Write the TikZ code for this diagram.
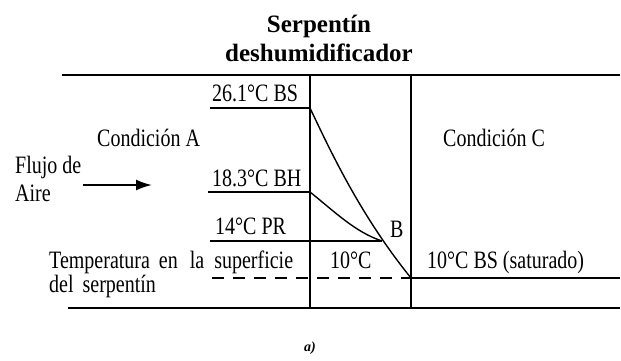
\documentclass[tikz,border=0pt]{standalone}
\usepackage{fontspec}
\setmainfont{Liberation Serif}
\newfontfamily\condfont{Liberation Serif}[FakeStretch=0.8]
\usetikzlibrary{arrows.meta,positioning}

\begin{document}
\begin{tikzpicture}[x=1pt, y=-1pt, node distance={6pt},
    lbl/.style = {inner sep=0pt, anchor=base west, font=\condfont\fontsize{25}{30}\selectfont},
    ttl/.style = {inner sep=0pt, anchor=base, font=\bfseries\fontsize{25}{30}\selectfont},
    wall/.style = {line width=2pt},
    proc/.style = {line width=1.4pt}]
        \useasboundingbox (0,0) rectangle (621,360);
        \node[ttl] (t1) at (319,32) {Serpentín};
        \node[ttl] (t2) at (319,61) {deshumidificador};
        \coordinate (tl) at (62,75);
        \coordinate (tr) at (620,75);
        \coordinate (bl) at (68,308);
        \coordinate (br) at (620,308);
        \coordinate (c1t) at (310,75);
        \coordinate (c1b) at (310,308);
        \coordinate (c2t) at (411,75);
        \coordinate (c2b) at (411,308);
        \coordinate (bs0) at (210,108);
        \coordinate (bs) at (310,108);
        \coordinate (bh0) at (208,192);
        \coordinate (bh) at (310,192);
        \coordinate (pr0) at (210,241);
        \coordinate (B) at (382,241);
        \coordinate (d0) at (212,278);
        \coordinate (sat) at (411,278);
        \coordinate (sat1) at (620,278);
        \coordinate (f0) at (83,185);
        \coordinate (f1) at (152,185);
        \node[lbl] (bsl) at (212,101) {26.1°C BS};
        \node[lbl] (bhl) at (212,186) {18.3°C BH};
        \node[lbl] (prl) at (215,234) {14°C PR};
        \node[lbl] (bl2) at (390,237) {B};
        \node[lbl] (ca) at (97,146) {Condición A};
        \node[lbl] (cc) at (443,146) {Condición C};
        \node[lbl] (fl) at (15,173) {Flujo de};
        \node[lbl] (air) at (15,201) {Aire};
        \node[lbl] (tsup) at (49,268) {Temperatura\hspace{9pt}en\hspace{12pt}la\hspace{10pt}superficie};
        \node[lbl] (tser) at (49,292) {del\hspace{9pt}serpentín};
        \node[lbl] (ten) at (330,268) {10°C};
        \node[lbl] (tsat) at (427,268) {10°C BS (saturado)};
        \node[inner sep=0pt, font=\bfseries\itshape\fontsize{14}{16}\selectfont] (fig) at (310,348) {a)};
        \draw[wall] (tl) -- (tr);
        \draw[wall] (bl) -- (br);
        \draw[wall] (c1t) -- (c1b);
        \draw[wall] (c2t) -- (c2b);
        \draw[proc] (bs0) -- (bs);
        \draw[proc] (bh0) -- (bh);
        \draw[proc] (pr0) -- (B);
        \draw[proc] (sat) -- (sat1);
        \draw[line width=2.8pt, dash pattern=on 12pt off 9pt] (d0) -- (sat);
        \draw[proc] (bs) .. controls (330,150) and (360,215) .. (sat);
        \draw[proc] (bh) .. controls (335,212) and (355,232) .. (B);
        \draw[line width=2pt, -{Latex[length=16pt,width=11pt]}] (f0) -- (f1);
    \end{tikzpicture}
\end{document}
